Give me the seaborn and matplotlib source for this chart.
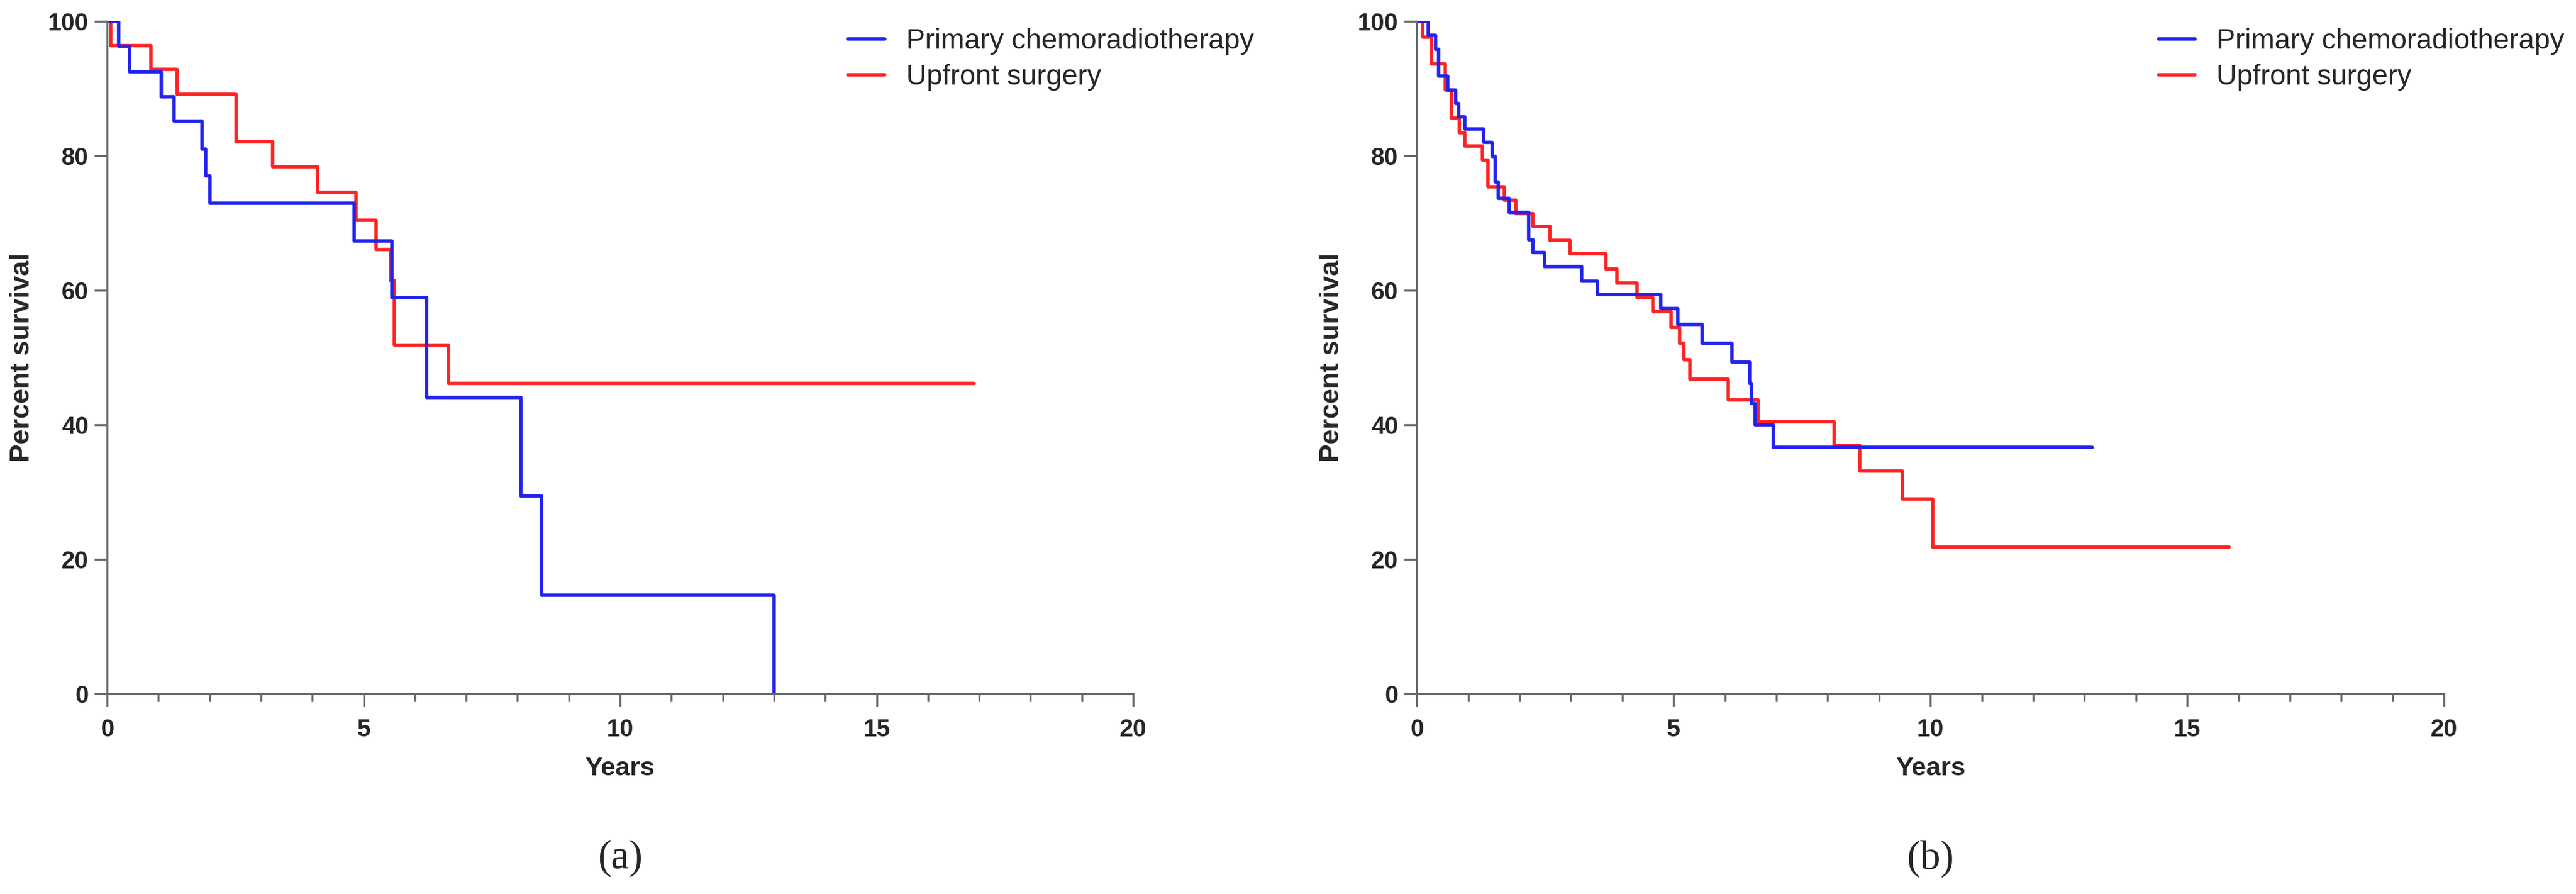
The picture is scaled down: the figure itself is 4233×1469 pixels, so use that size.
import numpy as np
import pandas as pd
import matplotlib
matplotlib.use("Agg")
import matplotlib.pyplot as plt
import seaborn as sns
from matplotlib.ticker import MultipleLocator

# --- grupos ---
grupos = ["Primary chemoradiotherapy", "Upfront surgery"]
colores = {"Primary chemoradiotherapy": "#2222ee", "Upfront surgery": "#ff2222"}

# --- panel (a): curvas Kaplan-Meier ---
a_crt_years = [0, 0.22, 0.44, 1.06, 1.30, 1.85, 1.92, 2.00, 4.81, 5.55, 6.23, 8.07, 8.47, 13.0]
a_crt_surv = [100, 96.3, 92.5, 88.8, 85.2, 81.0, 77.0, 73.0, 67.3, 58.9, 44.1, 29.4, 14.7, 0]

a_surg_years = [0, 0.07, 0.85, 1.36, 2.51, 3.22, 4.10, 4.85, 5.24, 5.53, 5.60, 6.65, 16.9]
a_surg_surv = [100, 96.4, 92.9, 89.2, 82.1, 78.4, 74.6, 70.4, 66.1, 61.5, 51.9, 46.2, 46.2]

# --- panel (b) ---
b_crt_years = [0, 0.22, 0.37, 0.42, 0.60, 0.76, 0.81, 0.93, 1.30, 1.47, 1.53, 1.59, 1.80,
               2.18, 2.26, 2.49, 3.21, 3.52, 4.75, 5.08, 5.55, 6.13, 6.48, 6.52, 6.59, 6.94, 13.15]
b_crt_surv = [100, 97.9, 95.9, 91.9, 89.8, 87.8, 85.8, 84.0, 82.0, 79.9, 76.1, 73.7, 71.6,
              67.5, 65.6, 63.5, 61.4, 59.4, 57.3, 54.9, 52.1, 49.3, 46.2, 43.2, 40.0, 36.7, 36.7]

b_surg_years = [0, 0.12, 0.28, 0.56, 0.67, 0.83, 0.93, 1.28, 1.39, 1.70, 1.93, 2.26, 2.59,
                2.98, 3.68, 3.90, 4.29, 4.60, 4.95, 5.12, 5.20, 5.32, 6.06, 6.64, 8.12,
                8.62, 9.45, 10.05, 15.82]
b_surg_surv = [100, 97.7, 93.7, 89.8, 85.6, 83.5, 81.5, 79.4, 75.4, 73.4, 71.4, 69.5, 67.4,
               65.4, 63.2, 61.1, 58.9, 56.8, 54.5, 52.1, 49.7, 46.8, 43.7, 40.5, 36.9,
               33.1, 29.0, 21.8, 21.8]

x_ticks = [0, 5, 10, 15, 20]
y_ticks = [0, 20, 40, 60, 80, 100]
captions = ["(a)", "(b)"]


def armar_df(years_crt, surv_crt, years_surg, surv_surg):
    d1 = pd.DataFrame({"Years": years_crt, "Survival": surv_crt, "Grupo": grupos[0]})
    d2 = pd.DataFrame({"Years": years_surg, "Survival": surv_surg, "Grupo": grupos[1]})
    return pd.concat([d2, d1], ignore_index=True)


paneles = [
    armar_df(a_crt_years, a_crt_surv, a_surg_years, a_surg_surv),
    armar_df(b_crt_years, b_crt_surv, b_surg_years, b_surg_surv),
]

sns.set_style("ticks")
plt.rcParams["font.family"] = ["Liberation Sans", "DejaVu Sans"]

fig = plt.figure(figsize=(42.33, 14.69), dpi=100)
posiciones = [[0.0416, 0.224, 0.3983, 0.752], [0.550, 0.224, 0.3988, 0.752]]
gris = "#6a6a6a"

for i, df in enumerate(paneles):
    ax = fig.add_axes(posiciones[i])
    sns.lineplot(
        data=df, x="Years", y="Survival", hue="Grupo",
        hue_order=[grupos[1], grupos[0]], palette=colores,
        estimator=None, sort=False, drawstyle="steps-post",
        linewidth=4.0, legend=False, ax=ax,
    )
    ax.set_xlim(0, 20)
    ax.set_ylim(0, 100)
    ax.set_xticks(x_ticks)
    ax.set_yticks(y_ticks)
    ax.xaxis.set_minor_locator(MultipleLocator(1))
    sns.despine(ax=ax)
    for s in ["left", "bottom"]:
        ax.spines[s].set_color(gris)
        ax.spines[s].set_linewidth(2.4)
    ax.tick_params(axis="both", which="major", length=15, width=2.4, color=gris,
                   labelsize=28.8, direction="out")
    ax.tick_params(axis="x", which="minor", length=9, width=2.4, color=gris, direction="out")
    ax.tick_params(axis="x", which="major", pad=14)
    ax.tick_params(axis="y", which="major", pad=7)
    for lab in ax.get_xticklabels() + ax.get_yticklabels():
        lab.set_fontweight("bold")
    ax.set_xlabel("Years", fontsize=31, fontweight="bold", labelpad=18)
    ax.set_ylabel("Percent survival", fontsize=32, fontweight="bold", labelpad=16)

    handles = [plt.Line2D([], [], color=colores[g], linewidth=4.0) for g in grupos]
    ax.legend(handles, grupos, loc="upper left", bbox_to_anchor=(0.722, 0.99),
              frameon=False, fontsize=33.5, handlelength=1.3, handletextpad=0.75,
              labelspacing=0.32, borderpad=0, borderaxespad=0)

    ax.text(0.5, -0.245, captions[i], transform=ax.transAxes, ha="center", va="center",
            fontsize=48, family=["Liberation Serif", "DejaVu Serif"])

fig.savefig("out.png", dpi=100, facecolor="white")
